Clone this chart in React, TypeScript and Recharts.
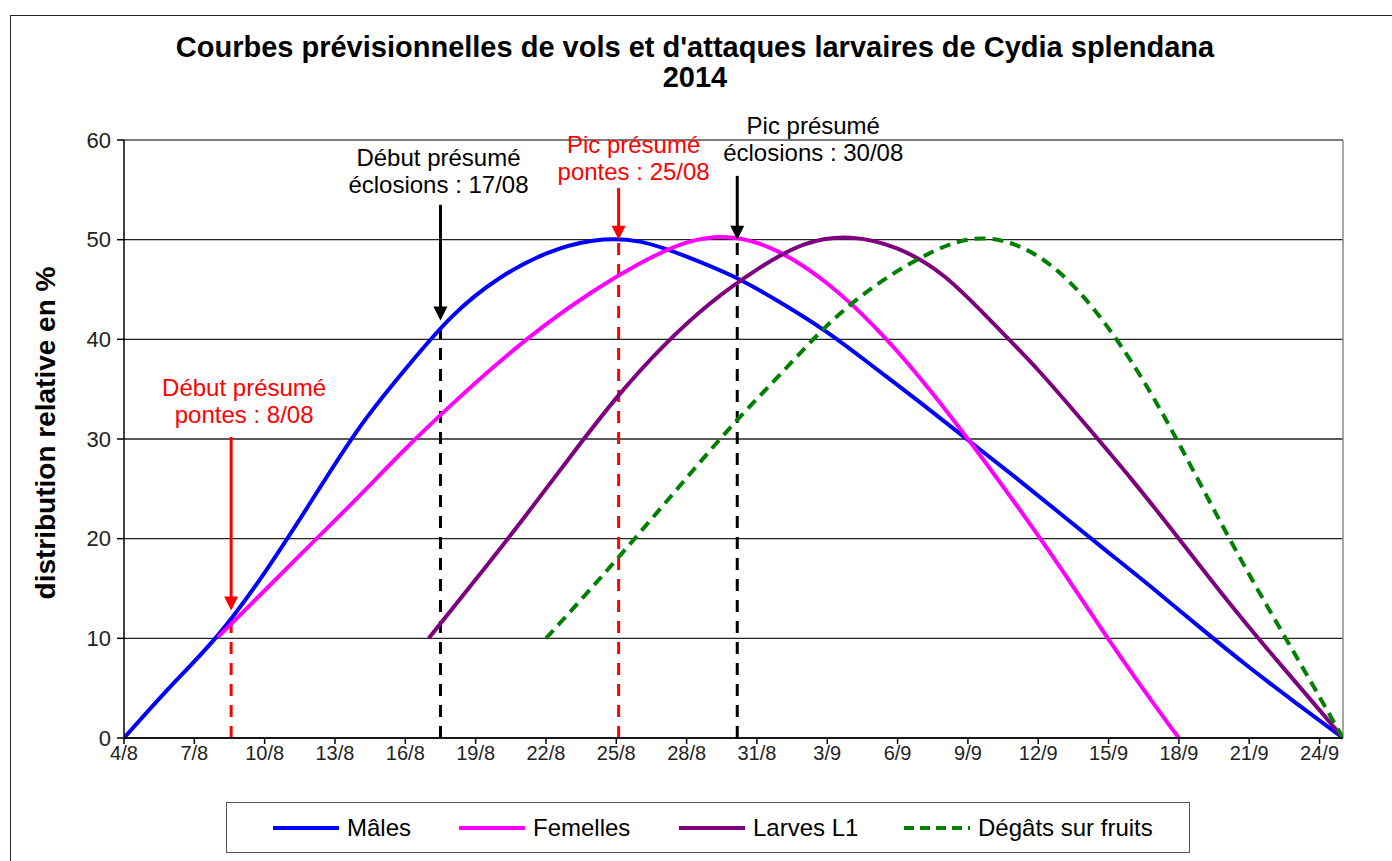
import React from 'react';
import { LineChart, Line, XAxis, YAxis, CartesianGrid, ReferenceLine } from 'recharts';

// jours comptés depuis le 4/8
const tickDays = [0, 3, 6, 9, 12, 15, 18, 21, 24, 27, 30, 33, 36, 39, 42, 45, 48, 51];
const tickLabels = ['4/8', '7/8', '10/8', '13/8', '16/8', '19/8', '22/8', '25/8', '28/8', '31/8', '3/9', '6/9', '9/9', '12/9', '15/9', '18/9', '21/9', '24/9'];
const yTicks = [0, 10, 20, 30, 40, 50, 60];

const maleDays = [0, 2, 4, 6, 8, 10, 12, 14, 16, 18, 20, 22, 24, 26, 28, 30, 32, 34, 36, 38, 40, 42, 44, 46, 48, 50, 52];
const maleValues = [0, 5.2, 10.3, 16.6, 23.8, 31.0, 37.0, 42.3, 46.1, 48.6, 49.9, 49.8, 48.3, 46.3, 43.7, 40.7, 37.2, 33.6, 29.9, 26.2, 22.4, 18.6, 14.8, 10.9, 7.1, 3.5, 0];

const femaleDays = [4, 6, 8, 10, 12, 14, 16, 18, 20, 22, 24, 26, 28, 30, 32, 34, 36, 38, 40, 42, 44, 45];
const femaleValues = [10.1, 14.8, 19.5, 24.2, 29.0, 33.5, 37.7, 41.5, 44.8, 47.6, 49.7, 50.2, 48.7, 45.6, 41.3, 36.0, 30.0, 23.6, 16.9, 9.9, 3.2, 0];

const larvaeDays = [13, 15, 17, 19, 21, 23, 25, 27, 29, 31, 33, 35, 37, 39, 41, 43, 45, 47, 49, 51, 52];
const larvaeValues = [10, 15.9, 21.9, 28.1, 34.1, 39.3, 43.6, 47.0, 49.5, 50.2, 49.1, 46.3, 41.8, 36.9, 31.5, 25.9, 20.0, 14.0, 8.3, 2.8, 0];

const damageDays = [18, 20, 22, 24, 26, 28, 30, 32, 34, 36, 38, 40, 42, 44, 46, 48, 50, 52];
const damageValues = [10, 15.2, 20.6, 26.1, 31.5, 36.5, 41.4, 45.3, 48.2, 50.0, 49.5, 46.5, 41.1, 33.8, 25.1, 16.4, 8.2, 0];

const markers = [
  { day: 4.57, color: '#ff0000', lines: ['Début présumé', 'pontes : 8/08'], dashTop: 11.5, arrowTop: 30.2, arrowTip: 12.8, labelDx: 13, labelDy: -50 },
  { day: 13.5, color: '#000000', lines: ['Début présumé', 'éclosions : 17/08'], dashTop: 41.8, arrowTop: 53.5, arrowTip: 41.9, labelDx: -2, labelDy: -47 },
  { day: 21.1, color: '#ff0000', lines: ['Pic présumé', 'pontes : 25/08'], dashTop: 50, arrowTop: 55.2, arrowTip: 50, labelDx: 15, labelDy: -43 },
  { day: 26.16, color: '#000000', lines: ['Pic présumé', 'éclosions : 30/08'], dashTop: 50, arrowTop: 56.4, arrowTip: 50, labelDx: 76, labelDy: -50 },
];

const toPoints = (days: number[], values: number[]) => days.map((d, i) => ({ d, v: values[i] }));

const series = [
  { name: 'Mâles', color: '#0000ff', data: toPoints(maleDays, maleValues), dash: undefined },
  { name: 'Femelles', color: '#ff00ff', data: toPoints(femaleDays, femaleValues), dash: undefined },
  { name: 'Larves L1', color: '#7f007f', data: toPoints(larvaeDays, larvaeValues), dash: undefined },
  { name: 'Dégâts sur fruits', color: '#008000', data: toPoints(damageDays, damageValues), dash: '11 7' },
];

const font = '"Liberation Sans", Arial, sans-serif';

const ArrowShape = (m: (typeof markers)[number]) => (props: any) => {
  const { x1, y1, x2, y2 } = props;
  const cx = (x1 + x2) / 2;
  const top = Math.min(y1, y2);
  const tip = Math.max(y1, y2);
  return (
    <g>
      <line x1={cx} y1={top} x2={cx} y2={tip - 12} stroke={m.color} strokeWidth={3} />
      <polygon points={`${cx - 7},${tip - 14} ${cx + 7},${tip - 14} ${cx},${tip}`} fill={m.color} />
      {m.lines.map((t, i) => (
        <text
          key={i}
          x={cx + m.labelDx}
          y={top + m.labelDy + i * 27}
          textAnchor="middle"
          dominantBaseline="central"
          fontSize={24}
          fontFamily={font}
          fill={m.color}
        >
          {t}
        </text>
      ))}
    </g>
  );
};

const legendLefts = [44, 230, 450, 675];

export default function App() {
  return (
    <div style={{ position: 'absolute', left: 0, top: 0, width: 1392, height: 861, overflow: 'hidden', background: '#fff', fontFamily: font }}>
      <div style={{ position: 'absolute', left: 10, top: 15, width: 1420, height: 900, border: '1.5px solid #222' }} />
      <div style={{ position: 'absolute', left: 0, top: 32, width: 1390, textAlign: 'center', fontWeight: 'bold', fontSize: 29, lineHeight: '30px', color: '#000' }}>
        Courbes prévisionnelles de vols et d'attaques larvaires de Cydia splendana
        <br />
        2014
      </div>
      <div
        style={{
          position: 'absolute',
          left: 46,
          top: 433,
          transform: 'translate(-50%, -50%) rotate(-90deg)',
          whiteSpace: 'nowrap',
          fontWeight: 'bold',
          fontSize: 28,
          color: '#000',
        }}
      >
        distribution relative en %
      </div>
      <div style={{ position: 'absolute', left: 0, top: 0 }}>
        <LineChart width={1392} height={861} margin={{ top: 140, right: 49, bottom: 88, left: 64 }}>
          <CartesianGrid horizontal vertical={false} stroke="#222" strokeWidth={1.3} />
          <XAxis
            type="number"
            dataKey="d"
            domain={[0, 52]}
            ticks={tickDays}
            interval={0}
            allowDataOverflow
            height={35}
            tickFormatter={(v: number) => tickLabels[tickDays.indexOf(v)] ?? ''}
            tick={{ fontSize: 20, fill: '#222', fontFamily: font }}
            tickSize={6}
            stroke="#000"
            strokeWidth={1.5}
          />
          <YAxis
            type="number"
            domain={[0, 60]}
            ticks={yTicks}
            interval={0}
            width={60}
            tick={{ fontSize: 22, fill: '#222', fontFamily: font, dx: -4 }}
            tickSize={7}
            stroke="#000"
            strokeWidth={1.5}
          />
          <ReferenceLine y={60} stroke="#888" strokeWidth={1.5} />
          <ReferenceLine x={52} stroke="#888" strokeWidth={1.5} />
          {markers.map((m, i) => (
            <ReferenceLine
              key={`dash-${i}`}
              segment={[{ x: m.day, y: 0 }, { x: m.day, y: m.dashTop }]}
              stroke={m.color}
              strokeWidth={3}
              strokeDasharray="12 9"
              ifOverflow="visible"
            />
          ))}
          {series.map((s) => (
            <Line
              key={s.name}
              data={s.data}
              dataKey="v"
              name={s.name}
              type="natural"
              stroke={s.color}
              strokeWidth={4}
              strokeDasharray={s.dash}
              dot={false}
              activeDot={false}
              isAnimationActive={false}
            />
          ))}
          {markers.map((m, i) => (
            <ReferenceLine
              key={`arrow-${i}`}
              segment={[{ x: m.day, y: m.arrowTop }, { x: m.day, y: m.arrowTip }]}
              ifOverflow="visible"
              shape={ArrowShape(m)}
            />
          ))}
        </LineChart>
      </div>
      <div style={{ position: 'absolute', left: 226, top: 802, width: 964, height: 51, border: '1px solid #555', boxSizing: 'border-box' }}>
        {series.map((s, i) => (
          <div key={s.name} style={{ position: 'absolute', left: legendLefts[i], top: 0, height: 49, display: 'flex', alignItems: 'center' }}>
            <svg width={70} height={10}>
              <line x1={2} y1={5} x2={68} y2={5} stroke={s.color} strokeWidth={4} strokeDasharray={s.dash ? '10 6' : undefined} />
            </svg>
            <span style={{ marginLeft: 6, fontSize: 24, color: '#000' }}>{s.name}</span>
          </div>
        ))}
      </div>
    </div>
  );
}
